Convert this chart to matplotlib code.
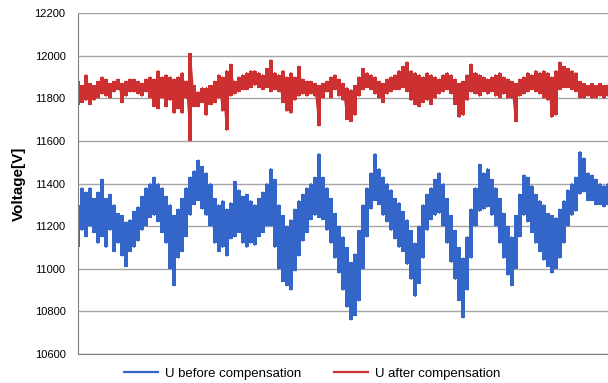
import numpy as np
import matplotlib
matplotlib.use("Agg")
import matplotlib.pyplot as plt

plt.rcParams['font.family'] = ['Liberation Sans', 'DejaVu Sans']

# envelope (upper / lower) of each trace
before_hi = [11300, 11380, 11360, 11380, 11330, 11360, 11420, 11330, 11350, 11300,
             11260, 11250, 11220, 11230, 11270, 11290, 11340, 11380, 11400, 11430,
             11400, 11380, 11340, 11300, 11250, 11280, 11330, 11380, 11430, 11460,
             11510, 11480, 11450, 11400, 11330, 11300, 11320, 11280, 11310, 11410,
             11370, 11340, 11350, 11320, 11300, 11330, 11360, 11400, 11470, 11420,
             11300, 11250, 11200, 11230, 11280, 11320, 11350, 11380, 11400, 11430,
             11540, 11430, 11380, 11330, 11260, 11200, 11150, 11100, 11030, 11070,
             11180, 11300, 11380, 11450, 11540, 11470, 11430, 11400, 11370, 11330,
             11310, 11270, 11230, 11180, 11120, 11200, 11300, 11350, 11380, 11420,
             11450, 11400, 11330, 11250, 11180, 11100, 11050, 11150, 11280, 11380,
             11490, 11450, 11470, 11420, 11380, 11330, 11260, 11200, 11150, 11250,
             11350, 11440, 11430, 11390, 11350, 11320, 11300, 11260, 11250, 11240,
             11280, 11320, 11370, 11400, 11430, 11550, 11520, 11450, 11440, 11420,
             11400, 11390, 11400]
before_lo = [11100, 11180, 11150, 11200, 11170, 11120, 11150, 11100, 11180, 11080,
             11120, 11060, 11010, 11080, 11100, 11130, 11180, 11200, 11240, 11250,
             11220, 11170, 11120, 11000, 10920, 11050, 11080, 11150, 11250, 11300,
             11320, 11280, 11250, 11200, 11120, 11080, 11100, 11060, 11140, 11150,
             11170, 11120, 11100, 11120, 11110, 11150, 11170, 11200, 11200, 11100,
             11000, 10940, 10920, 10900, 10990, 11060, 11130, 11170, 11230, 11250,
             11240, 11230, 11180, 11120, 11050, 10980, 10900, 10820, 10760, 10780,
             10850, 11000, 11150, 11280, 11320, 11300, 11250, 11220, 11180, 11140,
             11100, 11080, 11020, 10950, 10870, 10930, 11050, 11180, 11230, 11250,
             11260, 11200, 11120, 11030, 10950, 10850, 10770, 10900, 11050, 11200,
             11270, 11280, 11290, 11250, 11200, 11120, 11050, 10970, 10920, 11000,
             11150, 11250, 11220, 11170, 11120, 11080, 11040, 11010, 10980, 11000,
             11050, 11120, 11200, 11250, 11270, 11350, 11360, 11320, 11320, 11300,
             11300, 11290, 11300]
after_hi = [11880, 11860, 11910, 11870, 11860, 11880, 11900, 11890, 11870, 11880,
            11890, 11870, 11880, 11890, 11890, 11880, 11870, 11890, 11900, 11890,
            11930, 11900, 11910, 11900, 11890, 11900, 11920, 11880, 12010, 11860,
            11830, 11850, 11850, 11860, 11880, 11910, 11900, 11930, 11960, 11880,
            11900, 11910, 11920, 11930, 11930, 11920, 11910, 11940, 11980, 11920,
            11910, 11930, 11900, 11920, 11900, 11950, 11890, 11880, 11880, 11870,
            11860, 11870, 11880, 11900, 11910, 11890, 11870, 11850, 11840, 11860,
            11900, 11940, 11920, 11910, 11900, 11880, 11870, 11890, 11900, 11910,
            11930, 11950, 11970, 11930, 11920, 11910, 11900, 11920, 11910, 11900,
            11890, 11910, 11920, 11910, 11890, 11870, 11880, 11910, 11960, 11920,
            11910, 11900, 11890, 11900, 11910, 11920, 11900, 11890, 11880, 11870,
            11890, 11900, 11920, 11910, 11930, 11920, 11930, 11920, 11900, 11930,
            11970, 11950, 11940, 11930, 11920, 11880, 11870, 11860, 11870, 11860,
            11870, 11860, 11860]
after_lo = [11770, 11780, 11790, 11770, 11790, 11800, 11820, 11810, 11800, 11830,
            11840, 11780, 11810, 11830, 11830, 11820, 11810, 11830, 11800, 11760,
            11750, 11800, 11760, 11790, 11730, 11750, 11730, 11800, 11600, 11760,
            11760, 11780, 11720, 11770, 11780, 11800, 11740, 11650, 11810, 11820,
            11830, 11840, 11840, 11850, 11860, 11850, 11840, 11850, 11830, 11840,
            11830, 11780, 11740, 11730, 11790, 11810, 11820, 11810, 11820, 11810,
            11670, 11800, 11830, 11800, 11840, 11810, 11790, 11700, 11690, 11720,
            11810, 11840, 11850, 11840, 11820, 11800, 11780, 11820, 11830, 11840,
            11840, 11850, 11830, 11790, 11770, 11760, 11780, 11790, 11770, 11800,
            11820, 11830, 11840, 11820, 11770, 11710, 11720, 11790, 11830, 11820,
            11810, 11830, 11820, 11830, 11810, 11800, 11820, 11800, 11800, 11690,
            11810, 11820, 11830, 11840, 11830, 11820, 11800, 11790, 11710, 11720,
            11840, 11850, 11850, 11840, 11830, 11800, 11800, 11810, 11800, 11800,
            11810, 11800, 11810]

BLUE = '#3465C8'
RED = '#CC3030'


def zigzag(lo, hi):
    # trace runs low -> high inside every column, like the dense raw signal
    xs, ys = [], []
    for i, (a, b) in enumerate(zip(lo, hi)):
        xs += [i, i]
        ys += [a, b]
    return np.array(xs), np.array(ys)


col = np.arange(len(before_hi))

fig = plt.figure(figsize=(6.08, 3.83), dpi=100)
ax = fig.add_axes([78 / 608, 29 / 383, 530 / 608, 341 / 383])

for lo, hi, c, name in [(before_lo, before_hi, BLUE, 'U before compensation'),
                        (after_lo, after_hi, RED, 'U after compensation')]:
    ax.fill_between(col, lo, hi, color=c, lw=0, step='mid')
    x, y = zigzag(lo, hi)
    ax.plot(x, y, color=c, lw=1.0, label=name)

ax.set_xlim(0, len(col) - 1)
ax.set_ylim(10600, 12200)
ax.set_yticks(np.arange(10600, 12201, 200))
ax.set_xticks([])
ax.tick_params(axis='y', length=0, pad=9, labelsize=8)
ax.grid(axis='y', color='#a6a6a6', lw=1)
ax.set_axisbelow(True)
for s in ['left', 'bottom']:
    ax.spines[s].set_color('#7f7f7f')
ax.spines['top'].set_color('#a6a6a6')
ax.spines['right'].set_visible(False)

ax.set_ylabel('Voltage[V]', fontsize=11, fontweight='bold', labelpad=6)

leg = fig.legend(loc='center', bbox_to_anchor=(0.513, 0.025), ncol=2, frameon=False,
                 fontsize=9.5, handlelength=2.6, columnspacing=2.5, handletextpad=0.5)
for h in leg.get_lines():
    h.set_linewidth(1.6)

fig.savefig('out.png', dpi=100)
